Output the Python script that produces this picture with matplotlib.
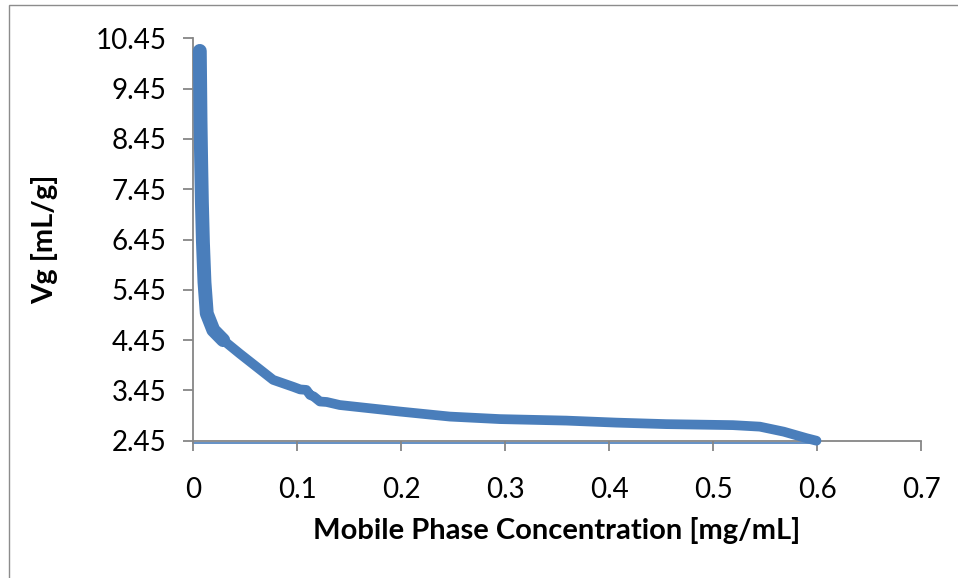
import matplotlib
matplotlib.use("Agg")
import matplotlib.pyplot as plt
from matplotlib.patches import Rectangle

# curve (mobile phase conc. vs Vg)
conc = [0.0065, 0.0068, 0.0072, 0.0078, 0.0085, 0.0095, 0.0110, 0.0132, 0.0195,
        0.029, 0.045, 0.061, 0.077, 0.0965, 0.103, 0.109, 0.1125, 0.116, 0.122,
        0.1285, 0.141, 0.199, 0.247, 0.295, 0.359, 0.407, 0.455, 0.519, 0.545,
        0.568, 0.590, 0.5995]
vg = [10.20, 9.60, 8.80, 8.00, 7.20, 6.40, 5.60, 4.98, 4.65,
      4.45, 4.18, 3.92, 3.66, 3.52, 3.47, 3.46, 3.36, 3.33, 3.23,
      3.22, 3.16, 3.03, 2.93, 2.88, 2.85, 2.81, 2.78, 2.76, 2.73,
      2.63, 2.50, 2.45]

# return leg along the bottom axis
base_conc = [0.0, 0.6]
base_vg = [2.395, 2.395]

xticks = [0, 0.1, 0.2, 0.3, 0.4, 0.5, 0.6, 0.7]
xticklabels = ["0", "0.1", "0.2", "0.3", "0.4", "0.5", "0.6", "0.7"]
yticks = [2.45, 3.45, 4.45, 5.45, 6.45, 7.45, 8.45, 9.45, 10.45]
yticklabels = ["2.45", "3.45", "4.45", "5.45", "6.45", "7.45", "8.45", "9.45", "10.45"]

blue = "#4A7EBB"
grey = "#868686"

plt.rcParams["font.family"] = ["Lato", "DejaVu Sans"]

fig = plt.figure(figsize=(9.58, 5.78), dpi=100)
ax = fig.add_axes([0.2015, 0.2375, 0.7599, 0.6962])

# chart area border
fig.patches.append(Rectangle((9 / 958, -0.1), 1.2, 1 - 5 / 578 + 0.1,
                             transform=fig.transFigure, fill=False,
                             edgecolor="#8C8C8C", linewidth=1.0))

ax.plot(base_conc, base_vg, color=blue, linewidth=1.2, clip_on=False, zorder=1)
# steep part is drawn wider, like the dense scatter in the original
ax.plot(conc[:10], vg[:10], color=blue, linewidth=10, solid_capstyle="round",
        solid_joinstyle="round", zorder=3, clip_on=False)
ax.plot(conc, vg, color=blue, linewidth=7, solid_capstyle="round",
        solid_joinstyle="round", zorder=3, clip_on=False)

ax.set_xlim(0, 0.7)
ax.set_ylim(2.45, 10.45)
ax.set_xticks(xticks)
ax.set_xticklabels(xticklabels)
ax.set_yticks(yticks)
ax.set_yticklabels(yticklabels)

for s in ["top", "right"]:
    ax.spines[s].set_visible(False)
for s in ["left", "bottom"]:
    ax.spines[s].set_color(grey)
    ax.spines[s].set_linewidth(1.3)
    ax.spines[s].set_zorder(2)

ax.tick_params(axis="both", direction="out", length=7, width=1.3, color=grey,
               labelsize=20)
ax.tick_params(axis="x", pad=19)
ax.tick_params(axis="y", pad=12)

ax.set_xlabel("Mobile Phase Concentration [mg/mL]", fontsize=21, fontweight="bold",
              labelpad=10)
ax.set_ylabel("Vg [mL/g]", fontsize=21, fontweight="bold", labelpad=27)

fig.savefig("out.png", dpi=100)
